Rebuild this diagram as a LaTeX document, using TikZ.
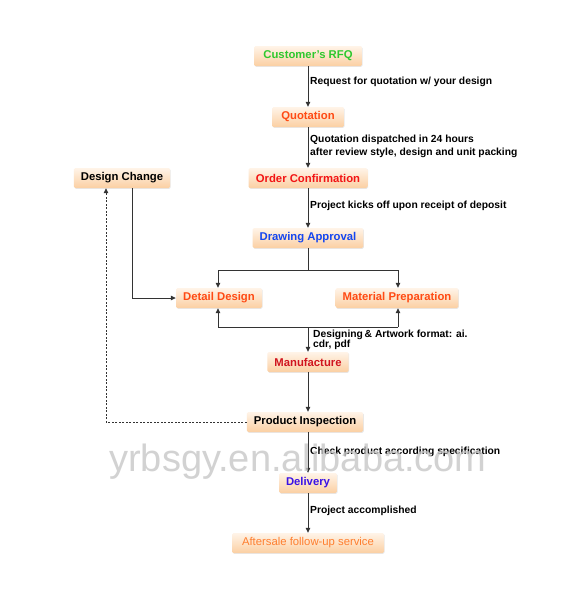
\documentclass[tikz,border=0pt]{standalone}
\usepackage{fontspec}
\setmainfont{Liberation Sans}
\usetikzlibrary{arrows.meta,shadows,calc}
\definecolor{boxtop}{HTML}{FFF4E8}
\definecolor{boxbot}{HTML}{FBCFA2}
\definecolor{cgreen}{HTML}{2EC82E}
\definecolor{corange}{HTML}{FF4A14}
\definecolor{cred}{HTML}{F21414}
\definecolor{cblue}{HTML}{1446F0}
\definecolor{cdred}{HTML}{D0141E}
\definecolor{cpurple}{HTML}{3A12E6}
\definecolor{clight}{HTML}{FF7E2E}
\definecolor{cline}{HTML}{333333}
\tikzset{
  stepbox/.style={rectangle, rounded corners=1.5pt, top color=boxtop, bottom color=boxbot,
    draw=none, minimum height=20pt, inner xsep=7pt, font=\fontsize{11.3}{11}\selectfont\bfseries,
    drop shadow={shadow xshift=0.6pt, shadow yshift=-0.8pt, fill=black!15, opacity=0.6}},
  lbl/.style={font=\fontsize{10.3}{13}\selectfont\bfseries, anchor=west, align=left, inner sep=0pt},
  conn/.style={draw=cline, line width=0.8pt, -{Triangle[length=5pt,width=4.5pt]}},
  plain/.style={draw=cline, line width=0.8pt},
}
\begin{document}
\begin{tikzpicture}[x=1pt,y=-1pt]
\useasboundingbox (0,0) rectangle (584,592);
\fill[white] (0,0) rectangle (584,592);
% nodes
\node[stepbox, text=cgreen, minimum width=108pt] (rfq) at (308,56) {Customer's RFQ};
\node[stepbox, text=corange, minimum width=72pt] (quo) at (308,117) {Quotation};
\node[stepbox, text=cred, minimum width=119pt] (oc) at (308,178) {Order Confirmation};
\node[stepbox, text=black, minimum width=92pt] (dc) at (122,178) {Design Change};
\node[stepbox, text=cblue, minimum width=108pt] (da) at (308,238) {Drawing Approval};
\node[stepbox, text=corange, minimum width=86pt] (dd) at (219,298) {Detail Design};
\node[stepbox, text=corange, minimum width=122pt] (mp) at (397,298) {Material Preparation};
\node[stepbox, text=cdred, minimum width=77pt] (man) at (308,362) {Manufacture};
\node[stepbox, text=black, minimum width=116pt] (pi) at (305,422) {Product Inspection};
\node[stepbox, text=cpurple, minimum width=55pt] (del) at (308,483) {Delivery};
\node[stepbox, text=clight, minimum width=152pt, font=\fontsize{11.3}{11}\selectfont] (as) at (308,543) {Aftersale follow-up service};
% coordinates
\coordinate (b1) at (308,270);
\coordinate (b1l) at (218,270);
\coordinate (b1r) at (398,270);
\coordinate (b2) at (308,327);
\coordinate (b2l) at (218,327);
\coordinate (b2r) at (398,327);
\coordinate (dcc) at (132,298);
\coordinate (dotc) at (106,422);
% main connectors
\draw[conn] (rfq.south -| 308,0) -- (quo.north -| 308,0);
\draw[conn] (quo.south -| 308,0) -- (oc.north -| 308,0);
\draw[conn] (oc.south -| 308,0) -- (da.north -| 308,0);
\draw[plain] (da.south -| 308,0) -- (b1);
\draw[plain] (b1l) -- (b1r);
\draw[conn] (b1l) -- (b1l |- dd.north);
\draw[conn] (b1r) -- (b1r |- mp.north);
\draw[plain] (b2l) -- (b2r);
\draw[conn] (b2l) -- (b2l |- dd.south);
\draw[conn] (b2r) -- (b2r |- mp.south);
\draw[conn] (b2) -- (man.north -| 308,0);
\draw[conn] (man.south -| 308,0) -- (pi.north -| 308,0);
\draw[conn] (pi.south -| 308,0) -- (del.north -| 308,0);
\draw[conn] (del.south -| 308,0) -- (as.north -| 308,0);
% design change loop
\draw[conn] (dc.south -| dcc) -- (dcc) -- (dd.west);
\draw[draw=cline, line width=0.8pt, dash pattern=on 2pt off 1.5pt, -{Triangle[length=5pt,width=4.5pt]}]
  (pi.west) -- (dotc) -- (dc.south -| dotc);
% labels
\node[lbl] (l1) at (310,82) {Request for quotation w/ your design};
\node[lbl] (l2) at (310,146.5) {Quotation dispatched in 24 hours\\after review style, design and unit packing};
\node[lbl] (l3) at (310,206) {Project kicks off upon receipt of deposit};
\node[lbl, font=\fontsize{10.3}{10.5}\selectfont\bfseries] (l4) at (313,340) {Designing\,\& Artwork format: ai.\\cdr, pdf};
\node[lbl] (l5) at (310,452) {Check product according specification};
\node[lbl] (l6) at (310,511) {Project accomplished};
% watermark
\node[text=black!22, opacity=0.8, font=\fontsize{38}{38}\selectfont, inner sep=0pt] (wm) at (298,462) {yrbsgy.en.alibaba.com};
\end{tikzpicture}
\end{document}
